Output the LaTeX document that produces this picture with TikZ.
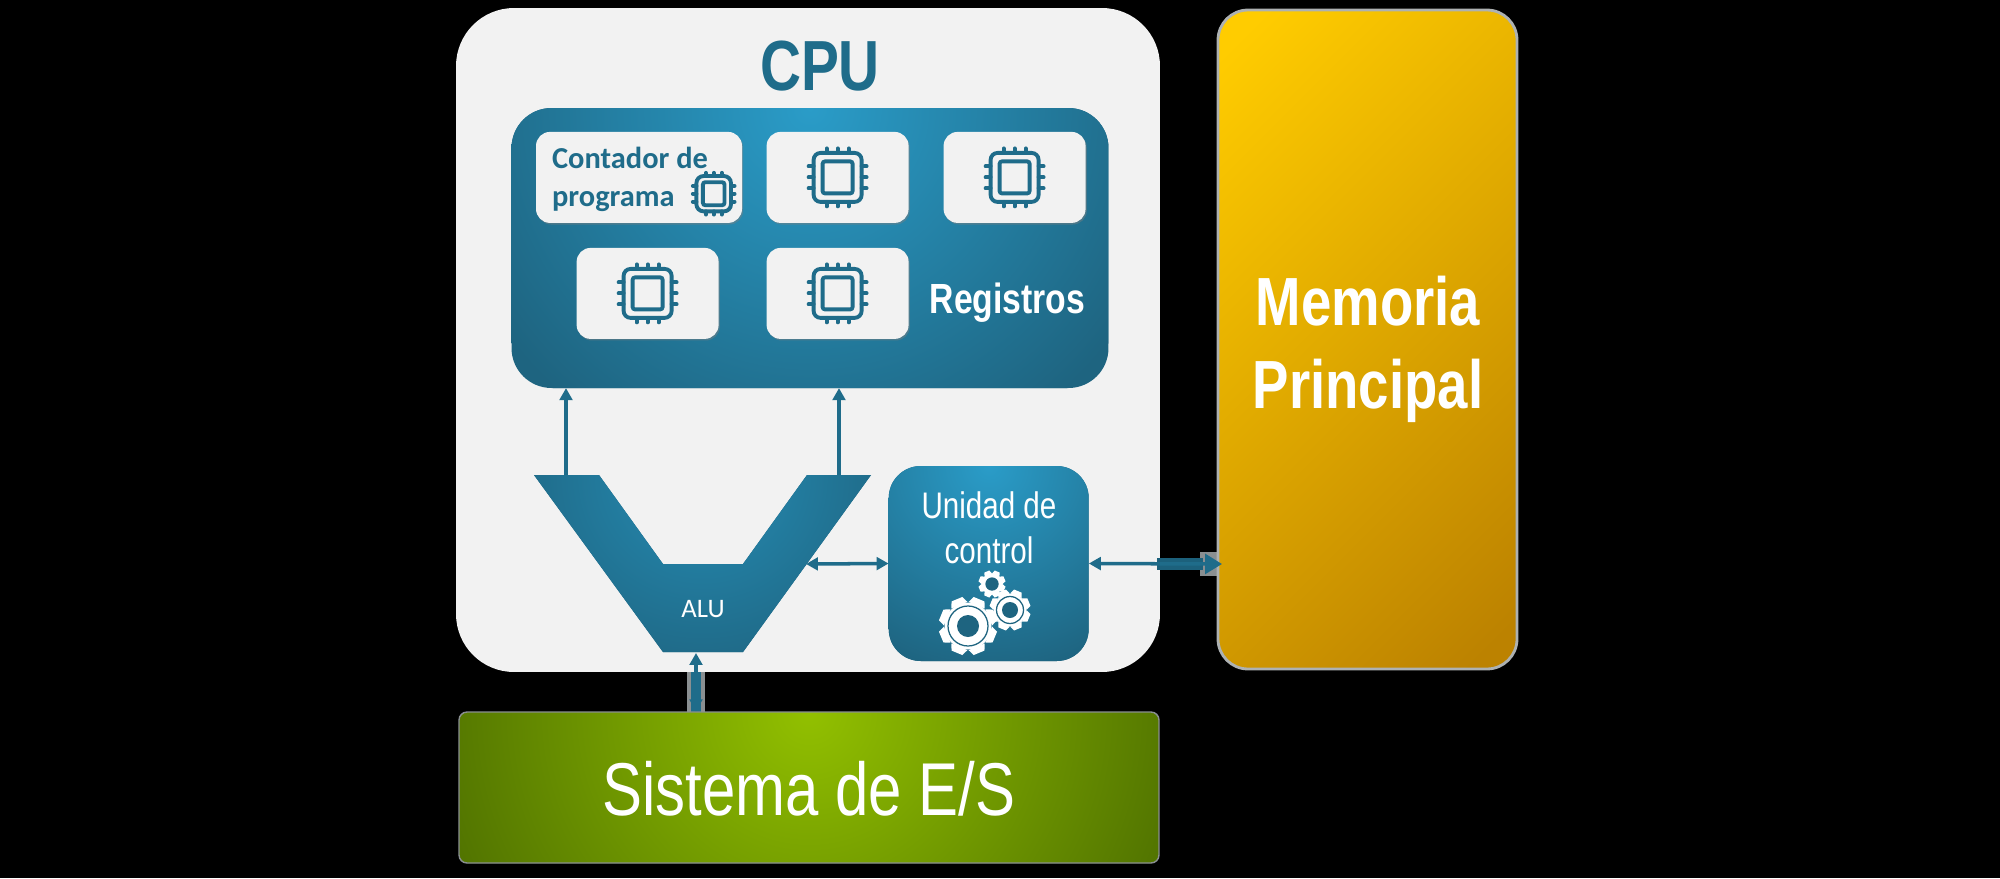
\documentclass[tikz,border=0pt]{standalone}
\usepackage{fontspec}
\setmainfont{Liberation Sans}[FakeStretch=0.8]
\newfontfamily\carlito{Carlito}
\usetikzlibrary{positioning,arrows.meta,shadows}
\definecolor{tealtext}{HTML}{1F6C8A}
\definecolor{tealbright}{HTML}{2A9CC8}
\definecolor{tealedge}{HTML}{1E6480}
\definecolor{panelgrey}{HTML}{F2F2F2}
\definecolor{haze}{HTML}{8A8F91}
\definecolor{goldlight}{HTML}{FFCC00}
\definecolor{golddark}{HTML}{BC8200}
\definecolor{greenlight}{HTML}{92C000}
\definecolor{greendark}{HTML}{4E7000}
\pgfdeclareverticalshading{goldfade}{100bp}{color(0bp)=(golddark); color(18bp)=(golddark); color(82bp)=(goldlight); color(100bp)=(goldlight)}
\tikzset{
  glow/.style n args={3}{fill=#2,path picture={\shade[inner color=#1,outer color=#2] (path picture bounding box.north) circle (#3);}},
  panel/.style={inner sep=0pt,rounded corners=#1},
  regbox/.style={panel=.7cm,fill=panelgrey,minimum width=7.1cm,minimum height=4.55cm,
    drop shadow={shadow xshift=.06cm,shadow yshift=-.08cm,opacity=.45}},
  txt/.style={inner sep=0pt,anchor=base,text=white},
  chipicon/.pic={
    \draw[tealtext,rounded corners=.35cm] (-24,-24.5) rectangle (24,24.5);
    \draw[tealtext,rounded corners=.12cm] (-15,-16) rectangle (15,16);
    \foreach \k in {-11,0,11}{
      \draw[tealtext,line cap=round] (\k,-24.5) -- (\k,-29);
      \draw[tealtext,line cap=round] (\k,24.5) -- (\k,29);
      \draw[tealtext,line cap=round] (-24,\k) -- (-29,\k);
      \draw[tealtext,line cap=round] (24,\k) -- (29,\k);
    }
  },
  pics/cog/.style n args={4}{code={
    \fill[white] (0,0) circle [radius=#2];
    \foreach \a in {22.5,67.5,...,360}
      \fill[white,rotate=\a] (#2-1,-.3*#1) -- (#1,-.2*#1) -- (#1,.2*#1) -- (#2-1,.3*#1) -- cycle;
    \draw[tealedge,line width=1.8pt] (0,0) circle [radius=#3];
    \fill[tealedge] (0,0) circle [radius=#4];
  }},
  every pic/.style={line width=5.5pt}
}
\begin{document}
\begin{tikzpicture}[x=.05cm,y=-.05cm,on grid,node distance=5.8cm and 8.85cm,>={Triangle[length=17pt,width=18pt]}]
\path[fill=black,use as bounding box] (0,0) rectangle (2000,878);

% blurred ends of the links
\fill[haze] (1200,552) rectangle (1218,576);
\fill[haze] (687,672) rectangle (705,712);
\fill[tealtext] (691,672) rectangle (701,712);

\node[panel=2.9cm,fill=panelgrey,minimum width=35.2cm,minimum height=33.2cm] (cpu) at (808,340) {};
\fill[tealtext!90!black] (1157,558) rectangle (1203,570);
\node[txt,text=tealtext,font=\bfseries\fontsize{101}{101}\selectfont] (cpu_t) at (820,90) {CPU};

% registers
\node[panel=2cm,glow={tealbright}{tealedge}{19cm},minimum width=29.85cm,minimum height=14cm] (regs) at (810,248) {};
\node[regbox] (r_2) at (837.6,177.4) {};
\node[regbox] (r_3) [right=of r_2] {};
\node[regbox] (r_5) [below=of r_2] {};
\node[regbox] (r_4) [left=9.5cm of r_5] {};
\node[regbox,minimum width=10.3cm] (r_1) at (639,177.4) {};
\node[txt,anchor=base west,align=left,text=tealtext,font=\carlito\bfseries\fontsize{43.3}{54}\selectfont] (r_1t) at (552,206.7) {Contador de\\programa};
\node[txt,font=\bfseries\fontsize{60}{60}\selectfont] (regs_t) at (1007.5,313) {Registros};
\pic at (r_2) {chipicon};
\pic at (r_3) {chipicon};
\pic at (r_4) {chipicon};
\pic at (r_5) {chipicon};
\pic[scale=.72,line width=4pt] at (713.7,193.7) {chipicon};

% alu
\path[glow={tealbright!90!black}{tealedge}{11cm}] (534,475) -- (599,475) -- (663,564) -- (743,564) -- (807,475) -- (871,475) -- (743,652) -- (663,652) -- cycle;
\node[txt,font=\carlito\fontsize{38}{38}\selectfont] (alu) at (703,617) {ALU};
\coordinate (alu_l) at (566,475);
\coordinate (alu_r) at (839,475);
\coordinate (alu_c) at (806,564);
\coordinate (alu_b) at (696,653);

% control unit
\node[panel=1.6cm,glow={tealbright}{tealedge}{10.5cm},minimum width=10cm,minimum height=9.75cm] (uc) at (988.7,563.5) {};
\node[txt,align=center,font=\fontsize{52.6}{64}\selectfont] (uc_t) at (989,563) {Unidad de\\control};
\pic at (968,626) {cog={29}{23.5}{20}{11}};
\pic at (1010,610) {cog={20.5}{16.5}{13.5}{8}};
\pic at (992,584) {cog={13.5}{10.5}{6}{6}};

% memory and i/o
\node[panel=1.5cm,draw=haze!70!white,line width=4pt,shading=goldfade,shading angle=45,minimum width=14.95cm,minimum height=32.95cm] (mem) at (1367.5,339.5) {};
\node[txt,align=center,font=\bfseries\fontsize{97}{118}\selectfont] (mem_t) at (1368,408.5) {Memoria\\Principal};
\node[panel=.4cm,draw=haze,line width=2pt,glow={greenlight}{greendark}{20cm},minimum width=35cm,minimum height=7.55cm] (es) at (809,787.5) {};
\node[txt,font=\fontsize{106.5}{106.5}\selectfont] (es_t) at (809,815) {Sistema de E/S};
\coordinate (mem_in) at (1222,564);

\path[->,tealtext,line width=5pt]
(alu_l) edge (alu_l |- regs.south)
(alu_r) edge (alu_r |- regs.south);
\path[<->,tealtext,line width=5pt]
(alu_c) edge (uc.west)
(alu_b) edge (alu_b |- es.north);
\path[{Triangle[length=17pt,width=18pt]}-{Triangle[length=24pt,width=28pt]},tealtext,line width=5pt]
(uc.east) edge (mem_in);
\end{tikzpicture}
\end{document}
